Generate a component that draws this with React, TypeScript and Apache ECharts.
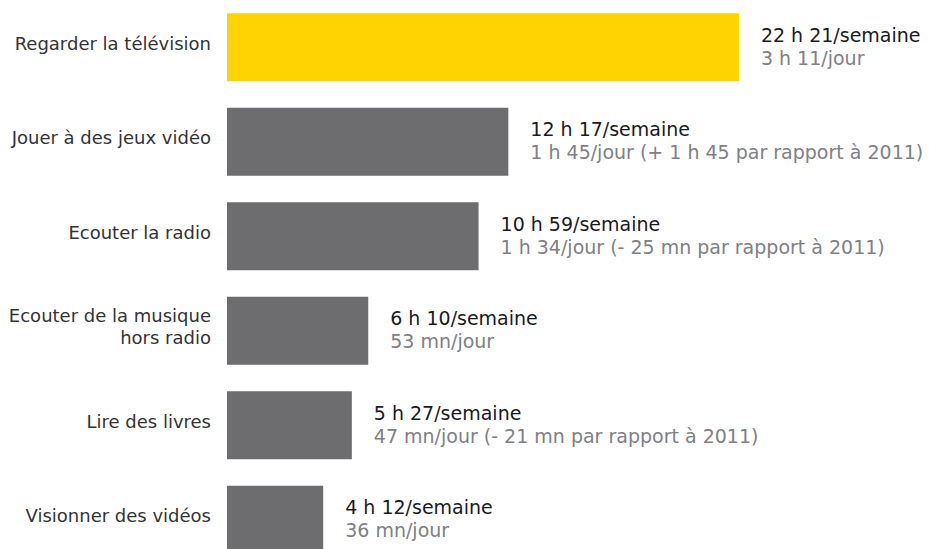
import React, { useEffect, useRef } from "react";
import * as echarts from "echarts";

const categories = [
  "Regarder la télévision",
  "Jouer à des jeux vidéo",
  "Ecouter la radio",
  "Ecouter de la musique\nhors radio",
  "Lire des livres",
  "Visionner des vidéos",
];
// minutes per week
const weeklyMinutes = [1341, 737, 659, 370, 327, 252];
const weeklyLabels = [
  "22 h 21/semaine",
  "12 h 17/semaine",
  "10 h 59/semaine",
  "6 h 10/semaine",
  "5 h 27/semaine",
  "4 h 12/semaine",
];
const dailyLabels = [
  "3 h 11/jour",
  "1 h 45/jour (+ 1 h 45 par rapport à 2011)",
  "1 h 34/jour (- 25 mn par rapport à 2011)",
  "53 mn/jour",
  "47 mn/jour (- 21 mn par rapport à 2011)",
  "36 mn/jour",
];
const barColors = ["#FFD300", "#6D6D6F", "#6D6D6F", "#6D6D6F", "#6D6D6F", "#6D6D6F"];

const FONT = "DejaVu Sans";

export default function App() {
  const ref = useRef<HTMLDivElement>(null);
  useEffect(() => {
    if (!ref.current) return;
    const chart = echarts.init(ref.current, null, { renderer: "svg" });
    const catStyle = { fontFamily: FONT, fontSize: 18, color: "#333338", lineHeight: 22, align: "right" };
    chart.setOption({
      animation: false,
      grid: {
        left: 227,
        width: 702,
        top: 0,
        height: 567,
        outerBoundsMode: "none",
        containLabel: false,
      },
      xAxis: {
        type: "value",
        min: 0,
        max: 1839,
        show: false,
      },
      yAxis: {
        type: "category",
        inverse: true,
        data: categories,
        axisLine: { show: false },
        axisTick: { show: false },
        axisLabel: {
          margin: 16,
          fontFamily: FONT,
          fontSize: 18,
          color: "#333338",
          lineHeight: 22,
          align: "right",
          formatter: (v: string) =>
            v
              .split("\n")
              .map((l) => `{n|${l}}`)
              .join("\n") + "\n{s| }",
          rich: {
            n: { ...catStyle },
            s: { fontFamily: FONT, fontSize: 1, lineHeight: 8, color: "transparent" },
          },
        },
      },
      series: [
        {
          type: "bar",
          barWidth: 68,
          data: weeklyMinutes.map((v, i) => ({
            value: v,
            itemStyle: { color: barColors[i] },
          })),
          label: {
            show: true,
            position: "right",
            distance: 22,
            fontFamily: FONT,
            padding: [0, 0, 2, 0],
            formatter: (p: any) =>
              `{a|${weeklyLabels[p.dataIndex]}}\n{b|${dailyLabels[p.dataIndex]}}`,
            rich: {
              a: { fontFamily: FONT, fontSize: 19, color: "#1A1A24", lineHeight: 23 },
              b: { fontFamily: FONT, fontSize: 19, color: "#808086", lineHeight: 23 },
            },
          },
        },
      ],
    });
    return () => chart.dispose();
  }, []);
  return (
    <div
      ref={ref}
      style={{ width: 929, height: 549, position: "absolute", left: 0, top: 0, overflow: "hidden" }}
    />
  );
}
